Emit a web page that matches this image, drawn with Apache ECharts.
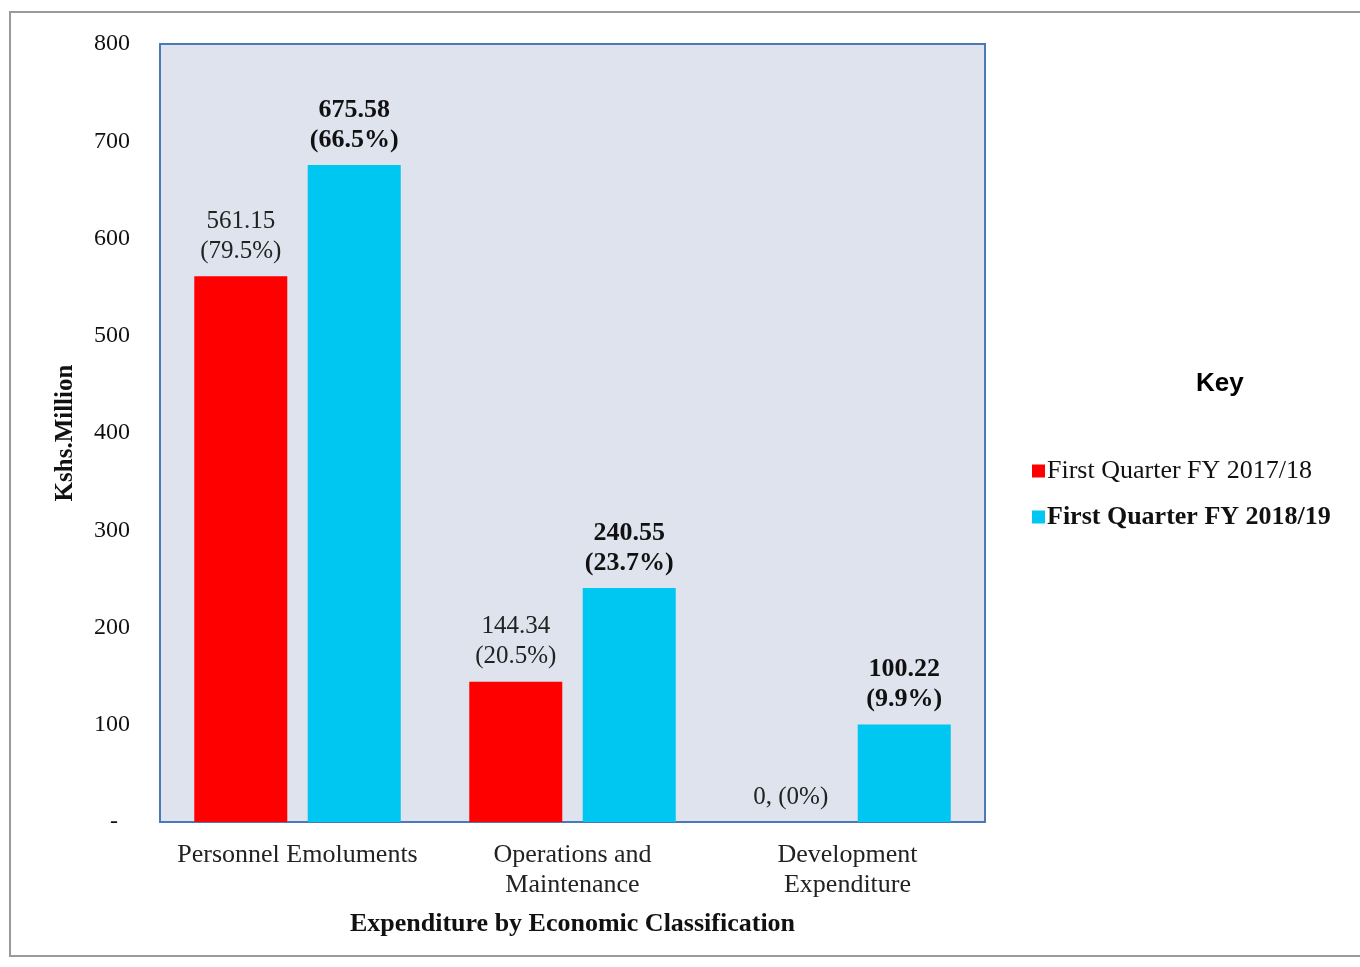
<!DOCTYPE html>
<html>
<head>
<meta charset="utf-8">
<script src="https://cdn.jsdelivr.net/npm/echarts@6/dist/echarts.min.js"></script>
<style>
  html, body { margin: 0; padding: 0; background: #ffffff; }
  #chart { width: 1360px; height: 967px; }
</style>
</head>
<body>
<div id="chart"></div>
<script>
// Expenditure by economic classification, first quarter comparison (Kshs. Million)
const categories = ['Personnel Emoluments', 'Operations and\nMaintenance', 'Development\nExpenditure'];
const seriesNames = ['First Quarter FY 2017/18', 'First Quarter FY 2018/19'];
const values2017 = [561.15, 144.34, 0];
const values2018 = [675.58, 240.55, 100.22];
const shares2017 = ['79.5%', '20.5%', '0%'];
const shares2018 = ['66.5%', '23.7%', '9.9%'];
const yTicks = [0, 100, 200, 300, 400, 500, 600, 700, 800];

const serif = '"Liberation Serif", "Times New Roman", serif';
const chart = echarts.init(document.getElementById('chart'));

function labelText(values, shares) {
  return function (p) {
    const v = values[p.dataIndex];
    const s = shares[p.dataIndex];
    if (v === 0) return v + ', (' + s + ')';
    return v.toFixed(2) + '\n(' + s + ')';
  };
}

chart.setOption({
  animation: false,
  backgroundColor: '#ffffff',
  graphic: [{
    type: 'rect',
    shape: { x: 10, y: 12, width: 1360, height: 944 },
    style: { fill: 'none', stroke: '#9a9a9a', lineWidth: 2 },
    z: -10
  }],
  title: {
    text: 'Key',
    left: 1191,
    top: 366,
    textStyle: { fontFamily: '"Liberation Sans", Arial, sans-serif', fontWeight: 'bold', fontSize: 26, color: '#000' }
  },
  legend: {
    orient: 'vertical',
    left: 1027,
    top: 453,
    itemWidth: 13,
    itemHeight: 13,
    itemGap: 20,
    icon: 'rect',
    data: seriesNames,
    textStyle: {
      fontFamily: serif,
      fontSize: 26,
      color: '#111',
      padding: [0, 0, 0, -3],
      rich: { b: { fontFamily: serif, fontSize: 26, fontWeight: 'bold', color: '#111' } }
    },
    formatter: function (name) {
      return name === seriesNames[1] ? '{b|' + name + '}' : name;
    }
  },
  grid: {
    left: 160,
    right: 375,
    top: 44,
    bottom: 145,
    show: true,
    backgroundColor: '#dee3ee',
    borderColor: '#4a78b8',
    borderWidth: 2
  },
  xAxis: {
    type: 'category',
    data: categories,
    name: 'Expenditure by Economic Classification',
    nameLocation: 'middle',
    nameGap: 89,
    nameTextStyle: { fontFamily: serif, fontWeight: 'bold', fontSize: 26, color: '#111' },
    axisLine: { show: true, lineStyle: { color: '#4a78b8', width: 2 } },
    axisTick: { show: false },
    axisLabel: { interval: 0, fontFamily: serif, fontSize: 26, color: '#222', margin: 18, lineHeight: 30 }
  },
  yAxis: {
    type: 'value',
    min: 0,
    max: 800,
    interval: 100,
    name: 'Kshs.Million',
    nameLocation: 'middle',
    nameGap: 82,
    nameTextStyle: { fontFamily: serif, fontWeight: 'bold', fontSize: 25, color: '#111' },
    axisLine: { show: false },
    axisTick: { show: false },
    splitLine: { show: false },
    axisLabel: {
      fontFamily: serif, fontSize: 24, color: '#111', margin: 30,
      formatter: function (v) { return yTicks.indexOf(v) === 0 ? '-  ' : String(v); }
    }
  },
  series: [
    {
      name: seriesNames[0],
      type: 'bar',
      data: values2017,
      barWidth: 93,
      barGap: '22%',
      itemStyle: { color: '#ff0000' },
      label: {
        show: true,
        position: 'top',
        distance: 10,
        fontFamily: serif,
        fontSize: 25,
        lineHeight: 30,
        color: '#222',
        formatter: labelText(values2017, shares2017)
      }
    },
    {
      name: seriesNames[1],
      type: 'bar',
      data: values2018,
      barWidth: 93,
      itemStyle: { color: '#00c6f2' },
      label: {
        show: true,
        position: 'top',
        distance: 10,
        fontFamily: serif,
        fontSize: 26,
        fontWeight: 'bold',
        lineHeight: 30,
        color: '#111',
        formatter: labelText(values2018, shares2018)
      }
    }
  ]
});
</script>
</body>
</html>
